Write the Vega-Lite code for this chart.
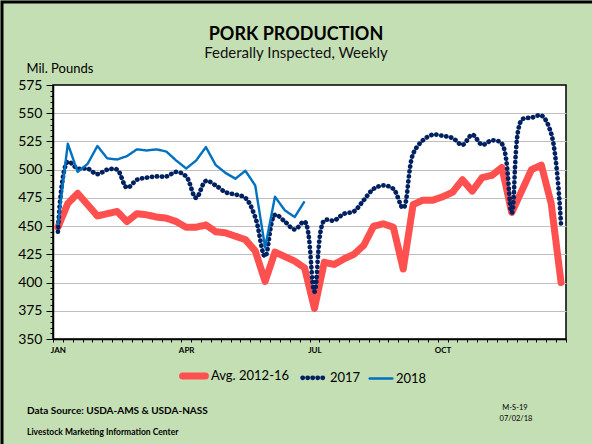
{
  "$schema": "https://vega.github.io/schema/vega-lite/v6.json",
  "width": 513,
  "height": 254,
  "autosize": "none",
  "padding": {"left": 53, "top": 85, "right": 26, "bottom": 105},
  "background": "#c5dfb4",
  "title": {
    "text": "PORK PRODUCTION",
    "subtitle": "Federally Inspected, Weekly",
    "font": "Lato",
    "fontSize": 18,
    "fontWeight": "bold",
    "color": "black",
    "subtitleFont": "Lato",
    "subtitleFontSize": 15,
    "subtitleColor": "#111111",
    "subtitlePadding": 2,
    "anchor": "middle",
    "dx": -13.5,
    "dy": 70,
    "offset": 10
  },
  "datasets": {
    "weekly": [
      {"week": 1, "avg": 449, "2017": 445, "2018": 451},
      {"week": 2, "avg": 470, "2017": 507, "2018": 523},
      {"week": 3, "avg": 479, "2017": 501, "2018": 498},
      {"week": 4, "avg": 469, "2017": 501, "2018": 505},
      {"week": 5, "avg": 459, "2017": 496, "2018": 521},
      {"week": 6, "avg": 461, "2017": 500, "2018": 510},
      {"week": 7, "avg": 463, "2017": 500, "2018": 509},
      {"week": 8, "avg": 454, "2017": 484, "2018": 512},
      {"week": 9, "avg": 461, "2017": 491, "2018": 518},
      {"week": 10, "avg": 460, "2017": 493, "2018": 517},
      {"week": 11, "avg": 458, "2017": 494, "2018": 518},
      {"week": 12, "avg": 457, "2017": 494, "2018": 516},
      {"week": 13, "avg": 454, "2017": 498, "2018": 508},
      {"week": 14, "avg": 449, "2017": 494, "2018": 501},
      {"week": 15, "avg": 449, "2017": 475, "2018": 508},
      {"week": 16, "avg": 451, "2017": 490, "2018": 520},
      {"week": 17, "avg": 445, "2017": 486, "2018": 504},
      {"week": 18, "avg": 444, "2017": 480, "2018": 497},
      {"week": 19, "avg": 441, "2017": 478, "2018": 492},
      {"week": 20, "avg": 438, "2017": 475, "2018": 499},
      {"week": 21, "avg": 428, "2017": 458, "2018": 486},
      {"week": 22, "avg": 401, "2017": 423, "2018": 431},
      {"week": 23, "avg": 427, "2017": 460, "2018": 476},
      {"week": 24, "avg": 423, "2017": 454, "2018": 464},
      {"week": 25, "avg": 419, "2017": 447, "2018": 458},
      {"week": 26, "avg": 413, "2017": 454, "2018": 472},
      {"week": 27, "avg": 377, "2017": 392},
      {"week": 28, "avg": 418, "2017": 455},
      {"week": 29, "avg": 416, "2017": 455},
      {"week": 30, "avg": 421, "2017": 461},
      {"week": 31, "avg": 425, "2017": 463},
      {"week": 32, "avg": 433, "2017": 473},
      {"week": 33, "avg": 450, "2017": 483},
      {"week": 34, "avg": 452, "2017": 486},
      {"week": 35, "avg": 449, "2017": 483},
      {"week": 36, "avg": 412, "2017": 466},
      {"week": 37, "avg": 469, "2017": 514},
      {"week": 38, "avg": 473, "2017": 526},
      {"week": 39, "avg": 473, "2017": 531},
      {"week": 40, "avg": 476, "2017": 530},
      {"week": 41, "avg": 480, "2017": 528},
      {"week": 42, "avg": 491, "2017": 522},
      {"week": 43, "avg": 481, "2017": 531},
      {"week": 44, "avg": 493, "2017": 522},
      {"week": 45, "avg": 495, "2017": 526},
      {"week": 46, "avg": 502, "2017": 523},
      {"week": 47, "avg": 462, "2017": 462},
      {"week": 48, "avg": 481, "2017": 544},
      {"week": 49, "avg": 500, "2017": 546},
      {"week": 50, "avg": 504, "2017": 548},
      {"week": 51, "avg": 470, "2017": 532},
      {"week": 52, "avg": 400, "2017": 451}
    ]
  },
  "layer": [
    {
      "data": {"values": [{}]},
      "mark": {"type": "rect", "x": -51, "y": -83, "x2": 600, "y2": 400, "fill": "transparent", "stroke": "black", "strokeWidth": 3},
      "encoding": {}
    },
    {
      "data": {"name": "weekly"},
      "transform": [
        {"fold": ["avg", "2017", "2018"], "as": ["series", "value"]},
        {"filter": "isValid(datum.value)"}
      ],
      "encoding": {
        "x": {
          "field": "week", "type": "quantitative",
          "scale": {"domain": [0.5, 52.5], "nice": false, "zero": false},
          "axis": {
            "title": null,
            "values": [0.5,1.5,2.5,3.5,4.5,5.5,6.5,7.5,8.5,9.5,10.5,11.5,12.5,13.5,14.5,15.5,16.5,17.5,18.5,19.5,20.5,21.5,22.5,23.5,24.5,25.5,26.5,27.5,28.5,29.5,30.5,31.5,32.5,33.5,34.5,35.5,36.5,37.5,38.5,39.5,40.5,41.5,42.5,43.5,44.5,45.5,46.5,47.5,48.5,49.5,50.5,51.5,52.5],
            "labelExpr": "datum.value === 0.5 ? 'JAN' : datum.value === 13.5 ? 'APR' : datum.value === 26.5 ? 'JUL' : datum.value === 39.5 ? 'OCT' : ''",
            "labelOffset": 4.9,
            "labelFlush": false,
            "labelOverlap": false,
            "labelFont": "Lato",
            "labelFontSize": 8,
            "labelFontWeight": "bold",
            "labelColor": "black",
            "labelPadding": 4,
            "tickSize": 3,
            "tickColor": "black",
            "domainColor": "black",
            "domainWidth": 1.5,
            "grid": false
          }
        },
        "y": {
          "field": "value", "type": "quantitative",
          "scale": {"domain": [350, 575], "nice": false, "zero": false},
          "axis": {
            "title": "Mil. Pounds",
            "titleAngle": 0,
            "titleAlign": "left",
            "titleBaseline": "alphabetic",
            "titleX": -27,
            "titleY": -13,
            "titleFont": "Lato",
            "titleFontSize": 13,
            "titleFontWeight": "normal",
            "titleColor": "black",
            "values": [350,355,360,365,370,375,380,385,390,395,400,405,410,415,420,425,430,435,440,445,450,455,460,465,470,475,480,485,490,495,500,505,510,515,520,525,530,535,540,545,550,555,560,565,570,575],
            "labelExpr": "datum.value % 25 === 0 ? datum.label : ''",
            "labelOverlap": false,
            "labelFlush": false,
            "labelFont": "Lato",
            "labelFontSize": 14,
            "labelColor": "black",
            "labelPadding": 4,
            "tickSize": {"condition": {"test": "datum.value % 25 === 0", "value": 7}, "value": 3},
            "tickColor": "black",
            "domainColor": "black",
            "domainWidth": 1.5,
            "grid": true,
            "gridColor": "#bfbfbf",
            "gridWidth": 1.2,
            "gridOpacity": {"condition": {"test": "datum.value % 25 === 0 && datum.value > 350 && datum.value < 575", "value": 1}, "value": 0}
          }
        },
        "color": {
          "field": "series", "type": "nominal",
          "scale": {"domain": ["avg", "2017", "2018"], "range": ["#ff5050", "#002060", "#0070c0"]},
          "legend": {
            "title": null,
            "orient": "none",
            "direction": "horizontal",
            "legendX": 126,
            "legendY": 276,
            "symbolType": "stroke",
            "symbolSize": 520,
            "labelExpr": "datum.label === 'avg' ? 'Avg. 2012-16' : datum.label",
            "labelFont": "Lato",
            "labelFontSize": 13,
            "labelColor": "black",
            "labelOffset": 2,
            "columnPadding": 3,
            "encode": {"symbols": {"update": {"strokeCap": {"value": "round"}}}}
          }
        },
        "strokeDash": {
          "field": "series", "type": "nominal",
          "scale": {"domain": ["avg", "2017", "2018"], "range": [[1, 0], [0.2, 4.8], [1, 0]]},
          "legend": {"title": null}
        },
        "strokeWidth": {
          "field": "series", "type": "nominal",
          "scale": {"domain": ["avg", "2017", "2018"], "range": [7, 2.4, 2.6]},
          "legend": {"title": null}
        }
      },
      "layer": [
        {
          "transform": [{"filter": "datum.series === 'avg'"}],
          "mark": {"type": "line", "strokeCap": "round", "strokeJoin": "round"}
        },
        {
          "transform": [{"filter": "datum.series === '2017'"}],
          "mark": {"type": "line", "interpolate": "catmull-rom", "strokeCap": "round"}
        },
        {
          "transform": [{"filter": "datum.series === '2018'"}],
          "mark": {"type": "line", "strokeJoin": "round"}
        }
      ]
    },
    {
      "data": {"values": [{}]},
      "mark": {"type": "text", "x": -26, "y": 329, "align": "left", "baseline": "alphabetic", "text": "Data Source:  USDA-AMS & USDA-NASS", "font": "Lato", "fontSize": 10, "fontWeight": "bold", "color": "black"},
      "encoding": {}
    },
    {
      "data": {"values": [{}]},
      "mark": {"type": "text", "x": -26, "y": 350, "align": "left", "baseline": "alphabetic", "text": "Livestock Marketing Information Center", "font": "Lato", "fontSize": 8.5, "fontWeight": "bold", "color": "black"},
      "encoding": {}
    },
    {
      "data": {"values": [{}]},
      "mark": {"type": "text", "x": 462, "y": 325, "align": "center", "baseline": "alphabetic", "text": "M-S-19", "font": "Lato", "fontSize": 7.5, "color": "black"},
      "encoding": {}
    },
    {
      "data": {"values": [{}]},
      "mark": {"type": "text", "x": 463, "y": 336, "align": "center", "baseline": "alphabetic", "text": "07/02/18", "font": "Lato", "fontSize": 7.5, "color": "black"},
      "encoding": {}
    }
  ],
  "config": {
    "view": {"fill": "white", "stroke": "black", "strokeWidth": 1.5}
  }
}
